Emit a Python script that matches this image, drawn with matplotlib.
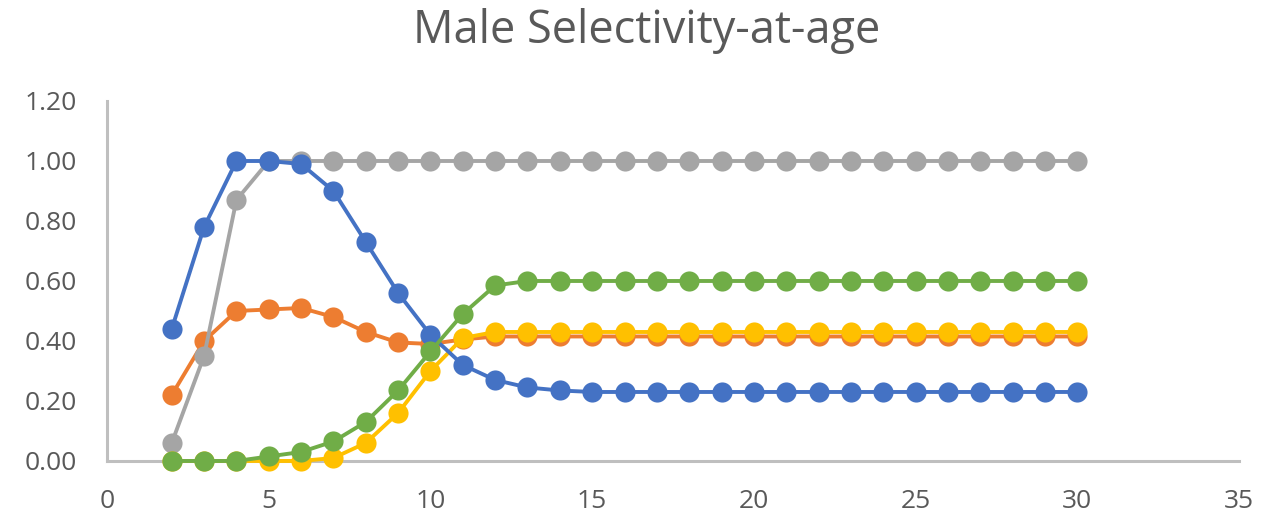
import numpy as np
import matplotlib
matplotlib.use("Agg")
from matplotlib import pyplot as plt

# ages 2..30
ages = list(range(2, 31))

blue = [0.44, 0.78, 1.00, 1.00, 0.99, 0.90, 0.73, 0.56, 0.42, 0.32, 0.27, 0.245, 0.235] + [0.23] * 16
orange = [0.22, 0.40, 0.50, 0.505, 0.51, 0.48, 0.43, 0.395, 0.39, 0.405, 0.415] + [0.415] * 18
gray = [0.06, 0.35, 0.87, 1.00, 1.00] + [1.00] * 24
yellow = [0.0, 0.0, 0.0, 0.0, 0.0, 0.01, 0.06, 0.16, 0.30, 0.41, 0.43] + [0.43] * 18
green = [0.0, 0.0, 0.0, 0.015, 0.03, 0.065, 0.13, 0.235, 0.365, 0.49, 0.585, 0.60] + [0.60] * 17

series = [
    (orange, "#ED7D31", 1),
    (gray, "#A5A5A5", 2),
    (yellow, "#FFC000", 3),
    (blue, "#4472C4", 4),
    (green, "#70AD47", 5),
]

plt.rcParams["font.family"] = ["Open Sans", "DejaVu Sans"]

fig = plt.figure(figsize=(12.7, 5.19), dpi=100)
ax = fig.add_axes([0.0843, 0.1118, 0.9756 - 0.0843, 0.8054 - 0.1118])

for vals, col, z in series:
    ax.plot(ages, vals, color=col, lw=2.8, marker="o", ms=14.5, zorder=z,
            markeredgewidth=0, solid_capstyle="round", clip_on=False)

ax.set_xlim(0, 35)
ax.set_ylim(0, 1.2)
ax.set_xticks(np.arange(0, 36, 5))
ax.set_yticks(np.arange(0, 1.21, 0.2))
ax.set_yticklabels([f"{v:.2f}" for v in np.arange(0, 1.21, 0.2)])

for side in ["top", "right"]:
    ax.spines[side].set_visible(False)
for side in ["left", "bottom"]:
    ax.spines[side].set_color("#BFBFBF")
    ax.spines[side].set_linewidth(2.2)
    ax.spines[side].set_zorder(0)

ax.tick_params(axis="both", length=0, labelsize=19, labelcolor="#595959")
ax.tick_params(axis="x", pad=20)
ax.tick_params(axis="y", pad=22)

fig.text(0.509, 0.917, "Male Selectivity-at-age", fontsize=32.5, color="#595959",
         ha="center", va="baseline")

fig.savefig("out.png", dpi=100)
